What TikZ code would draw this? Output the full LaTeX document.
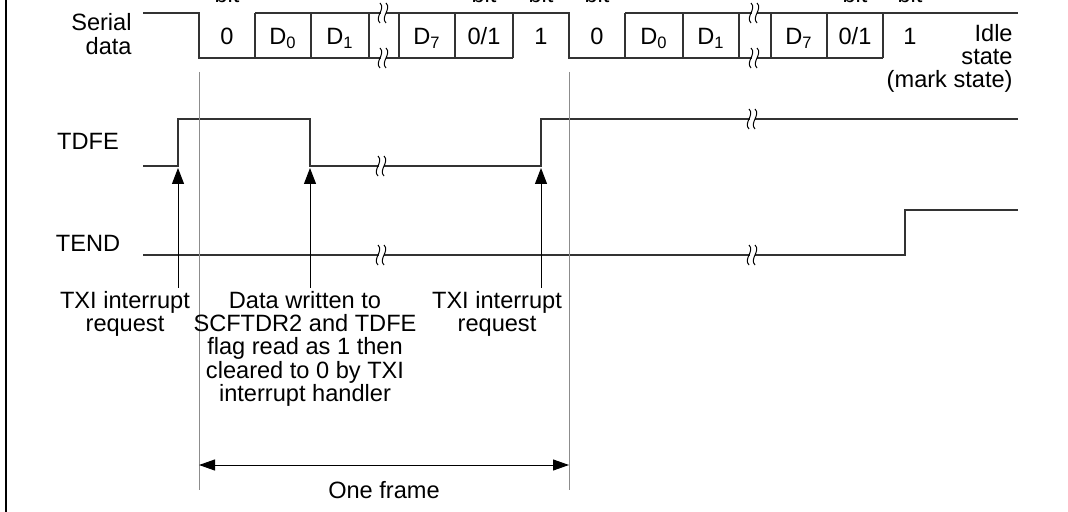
\documentclass[tikz,border=0pt]{standalone}
\usepackage{fontspec}
\setmainfont{Liberation Sans}
\usetikzlibrary{arrows.meta,positioning}
\definecolor{wave}{rgb}{0.2,0.2,0.2}
\definecolor{guide}{rgb}{0.55,0.55,0.55}
\tikzset{
  lbl/.style={font=\fontsize{11.8}{11.6}\selectfont, inner sep=0pt},
  sig/.style={line width=0.75pt, draw=wave},
  cellwall/.style={line width=0.6pt, draw=wave},
  guideline/.style={line width=0.5pt, draw=guide},
  evt/.style={line width=0.5pt, -{Triangle[length=8pt,width=6pt]}},
  brk/.pic={
    \fill[white] (-2.5,-8) rectangle (2.5,8);
    \draw[line width=0.5pt] (-3,-10) .. controls (3,-4) and (-9,4) .. (-3,10);
    \draw[line width=0.5pt] (3,-10) .. controls (9,-4) and (-3,4) .. (3,10);
  }
}

\begin{document}
\begin{tikzpicture}[x=0.5pt,y=-0.5pt]
    \useasboundingbox (0,0) rectangle (1068,512);
    \draw[line width=1pt] (5.7,0) -- (5.7,512);
    % serial data frames
    \draw[sig] (143,13) -- (199,13) -- (199,58) -- (513,58);
    \draw[sig] (255,13) -- (569,13) -- (569,58) -- (883,58);
    \draw[sig] (625,13) -- (1018,13);
    \foreach \x in {255,311,369,399,455,513,625,683,739,771,827,883}
        \draw[cellwall] (\x,13) -- (\x,58);
    \foreach \x/\t [count=\i] in {227/0,283/D\textsubscript{0},340/D\textsubscript{1},427/D\textsubscript{7},484/0\slash 1,541/1,
                                  597/0,654/D\textsubscript{0},711/D\textsubscript{1},799/D\textsubscript{7},855/0\slash 1,910/1}
        \node[lbl, anchor=base] (bit\i) at (\x,44.5) {\t};
    \foreach \x [count=\i] in {227,484,541,597,855,910}
        \node[lbl, anchor=base] (bittop\i) at (\x,2.5) {bit};
    \node[lbl, anchor=east, align=right] (serial) at (132,34) {Serial\\data};
    \node[lbl, anchor=north east, align=right] (idle) at (1013,24) {Idle\\state\\(mark state)};
    % flags
    \node[lbl] (tdfe) at (88,141) {TDFE};
    \node[lbl] (tend) at (88,243) {TEND};
    \draw[sig] (143,166) -- (178,166) -- (178,119) -- (310,119) -- (310,166) -- (541,166) -- (541,119) -- (1018,119);
    \draw[sig] (143,255) -- (905,255) -- (905,210) -- (1018,210);
    \foreach \x/\y in {383/13,383/58,381/166,381/255,754/13,754/58,752/119,752/255}
        \pic at (\x,\y) {brk};
    % frame limits
    \draw[guideline] (199,72) -- (199,490);
    \draw[guideline] (569,72) -- (569,490);
    % events
    \node[lbl, anchor=north, align=center] (txiA) at (125,291) {TXI interrupt\\request};
    \node[lbl, anchor=north, align=center] (dataw) at (305,291) {Data written to\\SCFTDR2 and TDFE\\flag read as 1 then\\cleared to 0 by TXI\\interrupt handler};
    \node[lbl, anchor=north, align=center] (txiB) at (497,291) {TXI interrupt\\request};
    \foreach \x/\n in {178/A,310/B,541/C} {
        \coordinate (foot\n) at (\x,288);
        \coordinate (tip\n) at (\x,168);
        \draw[evt] (foot\n) -- (tip\n);
    }
    \coordinate (frameL) at (199,465);
    \coordinate (frameR) at (569,465);
    \draw[line width=0.5pt, {Triangle[length=8pt,width=5.5pt]}-{Triangle[length=8pt,width=5.5pt]}] (frameL) -- (frameR);
    \node[lbl] (oneframe) at (384,490) {One frame};
\end{tikzpicture}
\end{document}
